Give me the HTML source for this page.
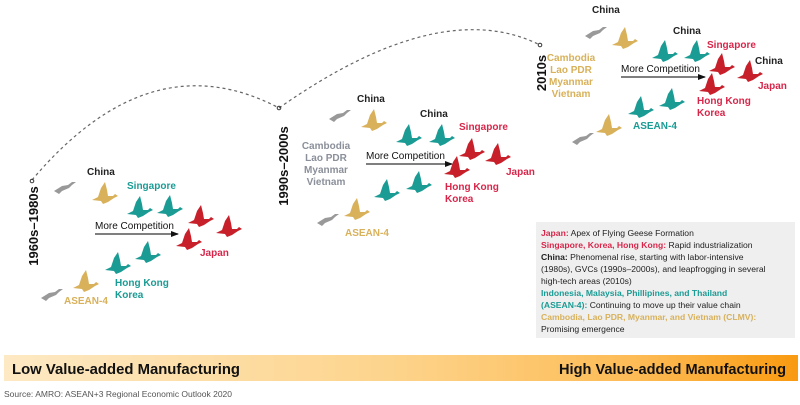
<!DOCTYPE html>
<html><head><meta charset="utf-8"><style>
html,body{margin:0;padding:0;background:#fff;}
svg{display:block;font-family:"Liberation Sans",Arial,sans-serif;}
.b{font-weight:bold;font-size:10px;}
</style></head><body>
<svg width="800" height="405" viewBox="0 0 800 405" xmlns="http://www.w3.org/2000/svg">
<defs>
<linearGradient id="g" x1="0" x2="1" y1="0" y2="0">
<stop offset="0" stop-color="#fde9c4"/><stop offset="0.5" stop-color="#fdd38a"/><stop offset="0.8" stop-color="#fdbb55"/><stop offset="1" stop-color="#f99a10"/>
</linearGradient>
<path id="fly" d="M0,18 L6,15 L9,6 L13,0 L15,8 L16,14 L21,14 L23,12 L26,14 L22,16 L16,20 L11,22 L9,19 Z M8,16 L14,6 L12,17 Z"/>
<path id="gl" d="M0,11 L8,6 L14,5 L18,2 L22,2 L18,5 L15,8 L8,11 L5,14 Z"/>
<marker id="ah" markerWidth="8" markerHeight="8" refX="7" refY="3" orient="auto" markerUnits="userSpaceOnUse"><path d="M0,0 L8,3 L0,6 Z" fill="#111"/></marker>
</defs>

<path d="M32,180 Q150,40 279,108" fill="none" stroke="#666" stroke-width="1.2" stroke-dasharray="3,3"/>
<path d="M279,108 Q440,-5 540,45" fill="none" stroke="#666" stroke-width="1.2" stroke-dasharray="3,3"/>
<circle cx="32" cy="181" r="1.8" fill="none" stroke="#333"/>
<circle cx="279" cy="108" r="1.8" fill="none" stroke="#333"/>
<circle cx="540" cy="45" r="1.8" fill="none" stroke="#333"/>

<text transform="translate(38,226) rotate(-90)" text-anchor="middle" font-weight="bold" font-size="13" fill="#111">1960s–1980s</text>
<text transform="translate(288,166) rotate(-90)" text-anchor="middle" font-weight="bold" font-size="13" fill="#111">1990s–2000s</text>
<text transform="translate(546,73) rotate(-90)" text-anchor="middle" font-weight="bold" font-size="13" fill="#111">2010s</text>

<g fill="#999"><use href="#gl" x="54" y="180"/><use href="#gl" x="41" y="287"/></g>
<g fill="#d8b15a"><use href="#fly" x="92" y="182"/><use href="#fly" x="73" y="270"/></g>
<g fill="#1a9b94"><use href="#fly" x="127" y="196"/><use href="#fly" x="157" y="195"/><use href="#fly" x="105" y="252"/><use href="#fly" x="135" y="241"/></g>
<g fill="#c8202a"><use href="#fly" x="188" y="205"/><use href="#fly" x="216" y="215"/><use href="#fly" x="176" y="228"/></g>
<text x="87" y="175" class="b" fill="#222">China</text>
<text x="127" y="189" class="b" fill="#1a9b94">Singapore</text>
<text x="95" y="229" font-size="10" fill="#111">More Competition</text>
<line x1="95" y1="234" x2="178" y2="234" stroke="#333" stroke-width="1.3" marker-end="url(#ah)"/>
<text x="200" y="256" class="b" fill="#d8264a">Japan</text>
<text x="115" y="286" class="b" fill="#1a9b94">Hong Kong</text>
<text x="115" y="298" class="b" fill="#1a9b94">Korea</text>
<text x="64" y="304" class="b" fill="#d8b15a">ASEAN-4</text>

<g fill="#999"><use href="#gl" x="329" y="108"/><use href="#gl" x="317" y="212"/></g>
<g fill="#d8b15a"><use href="#fly" x="361" y="109"/><use href="#fly" x="344" y="198"/></g>
<g fill="#1a9b94"><use href="#fly" x="396" y="124"/><use href="#fly" x="429" y="124"/><use href="#fly" x="374" y="179"/><use href="#fly" x="406" y="171"/></g>
<g fill="#c8202a"><use href="#fly" x="459" y="138"/><use href="#fly" x="485" y="143"/><use href="#fly" x="444" y="156"/></g>
<text x="357" y="102" class="b" fill="#222">China</text>
<text x="420" y="117" class="b" fill="#222">China</text>
<text x="459" y="130" class="b" fill="#d8264a">Singapore</text>
<text x="506" y="175" class="b" fill="#d8264a">Japan</text>
<text x="445" y="190" class="b" fill="#d8264a">Hong Kong</text>
<text x="445" y="202" class="b" fill="#d8264a">Korea</text>
<g class="b" fill="#8a8f99" text-anchor="middle"><text x="326" y="149">Cambodia</text><text x="326" y="161">Lao PDR</text><text x="326" y="173">Myanmar</text><text x="326" y="185">Vietnam</text></g>
<text x="366" y="159" font-size="10" fill="#111">More Competition</text>
<line x1="366" y1="164" x2="452" y2="164" stroke="#333" stroke-width="1.3" marker-end="url(#ah)"/>
<text x="345" y="236" class="b" fill="#d8b15a">ASEAN-4</text>

<g fill="#999"><use href="#gl" x="585" y="25"/><use href="#gl" x="572" y="131"/></g>
<g fill="#d8b15a"><use href="#fly" x="612" y="27"/><use href="#fly" x="596" y="114"/></g>
<g fill="#1a9b94"><use href="#fly" x="652" y="40"/><use href="#fly" x="684" y="40"/><use href="#fly" x="628" y="96"/><use href="#fly" x="659" y="88"/></g>
<g fill="#c8202a"><use href="#fly" x="709" y="53"/><use href="#fly" x="737" y="60"/><use href="#fly" x="699" y="73"/></g>
<text x="592" y="13" class="b" fill="#222">China</text>
<text x="673" y="34" class="b" fill="#222">China</text>
<text x="707" y="48" class="b" fill="#d8264a">Singapore</text>
<text x="755" y="64" class="b" fill="#222">China</text>
<text x="758" y="89" class="b" fill="#d8264a">Japan</text>
<text x="697" y="104" class="b" fill="#d8264a">Hong Kong</text>
<text x="697" y="116" class="b" fill="#d8264a">Korea</text>
<g class="b" fill="#d8b15a" text-anchor="middle"><text x="571" y="61">Cambodia</text><text x="571" y="73">Lao PDR</text><text x="571" y="85">Myanmar</text><text x="571" y="97">Vietnam</text></g>
<text x="621" y="72" font-size="10" fill="#111">More Competition</text>
<line x1="621" y1="77" x2="705" y2="77" stroke="#333" stroke-width="1.3" marker-end="url(#ah)"/>
<text x="633" y="129" class="b" fill="#1a9b94">ASEAN-4</text>

<rect x="536" y="222" width="259" height="116" fill="#efefef"/>
<g font-size="8.6" fill="#222">
<text x="541" y="236"><tspan fill="#d8264a" font-weight="bold">Japan:</tspan> Apex of Flying Geese Formation</text>
<text x="541" y="248"><tspan fill="#d8264a" font-weight="bold">Singapore, Korea, Hong Kong:</tspan> Rapid industrialization</text>
<text x="541" y="260"><tspan font-weight="bold">China:</tspan> Phenomenal rise, starting with labor-intensive</text>
<text x="541" y="272">(1980s), GVCs (1990s–2000s), and leapfrogging in several</text>
<text x="541" y="284">high-tech areas (2010s)</text>
<text x="541" y="296" fill="#1a9b94" font-weight="bold">Indonesia, Malaysia, Phillipines, and Thailand</text>
<text x="541" y="308"><tspan fill="#1a9b94" font-weight="bold">(ASEAN-4):</tspan> Continuing to move up their value chain</text>
<text x="541" y="320" fill="#d8b15a" font-weight="bold">Cambodia, Lao PDR, Myanmar, and Vietnam (CLMV):</text>
<text x="541" y="332">Promising emergence</text>
</g>

<rect x="4" y="355" width="794" height="26" fill="url(#g)"/>
<text x="12" y="374" font-weight="bold" font-size="15" fill="#111" textLength="228" lengthAdjust="spacingAndGlyphs">Low Value-added Manufacturing</text>
<text x="786" y="374" text-anchor="end" font-weight="bold" font-size="15" fill="#111" textLength="227" lengthAdjust="spacingAndGlyphs">High Value-added Manufacturing</text>
<text x="4" y="397" font-size="8.5" fill="#555" textLength="228" lengthAdjust="spacingAndGlyphs">Source: AMRO: ASEAN+3 Regional Economic Outlook 2020</text>
</svg>
</body></html>
